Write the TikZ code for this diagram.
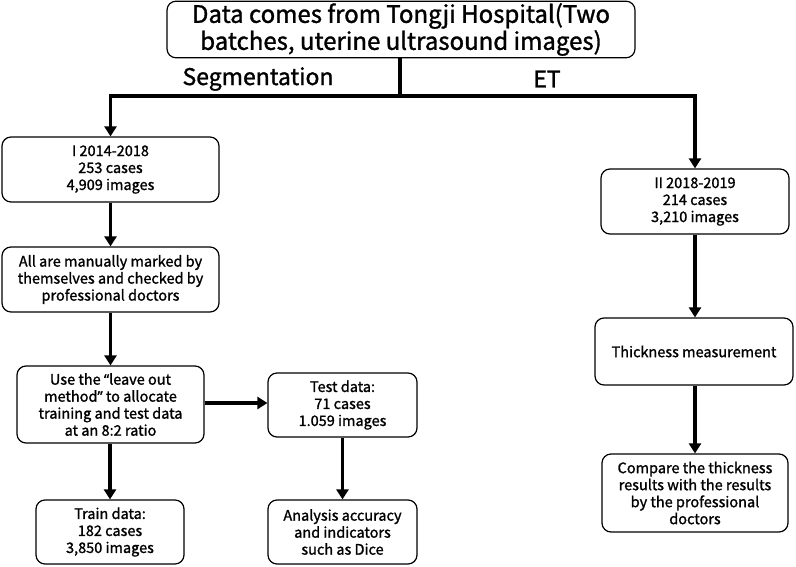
\documentclass[tikz,border=0pt]{standalone}
\usepackage{fontspec}
\setmainfont{Noto Sans CJK SC}[FakeBold=1.3]
\newfontfamily\qfont{Noto Sans}[FakeBold=1.3]
\usetikzlibrary{arrows.meta}
\begin{document}
\begin{tikzpicture}[x=1pt,y=-1pt,
  box/.style={draw, line width=1.2pt, rounded corners=9pt, align=center, inner sep=2pt,
    font=\fontsize{14.5}{17}\selectfont},
  arr/.style={line width=3.5pt, -{Triangle[width=12pt,length=10pt]}},
  ln/.style={line width=3.5pt},
  lbl/.style={font=\fontsize{23}{27}\selectfont}]
\useasboundingbox (0,0) rectangle (796,567);
\node[box, minimum width=468pt, minimum height=55pt, font=\fontsize{24}{27}\selectfont] (top) at (401,29.5)
  {Data comes from Tongji Hospital(Two\\batches, uterine ultrasound images)};
\node[box, minimum width=217pt, minimum height=65pt] (b1) at (110.5,169.5) {I 2014-2018\\253 cases\\4,909 images};
\node[box, minimum width=217pt, minimum height=65pt] (all) at (110.5,279.5) {All are manually marked by\\themselves and checked by\\professional doctors};
\node[box, minimum width=187pt, minimum height=77pt] (use) at (110.5,404.5) {Use the {\qfont “}leave out\\method{\qfont ”} to allocate\\training and test data\\at an 8:2 ratio};
\node[box, minimum width=149pt, minimum height=64pt] (test) at (342.5,405) {Test data:\\71 cases\\1.059 images};
\node[box, minimum width=148pt, minimum height=64pt] (train) at (110,532) {Train data:\\182 cases\\3,850 images};
\node[box, minimum width=149pt, minimum height=64pt] (ana) at (342.5,532) {Analysis accuracy\\and indicators\\such as Dice};
\node[box, minimum width=188pt, minimum height=65pt] (b2) at (695,201.5) {II 2018-2019\\214 cases\\3,210 images};
\node[box, minimum width=198pt, minimum height=67pt] (thick) at (694,351.5) {Thickness measurement};
\node[box, minimum width=186pt, minimum height=78pt] (cmp) at (695,493) {Compare the thickness\\results with the results\\by the professional\\doctors};
\node[lbl] (seg) at (258,79) {Segmentation};
\node[lbl] (et) at (547,79) {ET};
\coordinate (j) at (400,96);
\draw[ln] (top.south -| j) -- (j);
\draw[arr] (j) -| (b1.north);
\draw[arr] (j) -| (b2.north);
\draw[arr] (b1) -- (all);
\draw[arr] (all) -- (all.south |- use.north);
\draw[arr] (use.east |- 0,403) -- (test.west |- 0,403);
\draw[arr] (use.south -| train.north) -- (train.north);
\draw[arr] (test) -- (ana);
\draw[arr] (b2) -- (b2.south |- thick.north);
\draw[arr] (thick.south -| cmp.north) -- (cmp.north);
\end{tikzpicture}
\end{document}
